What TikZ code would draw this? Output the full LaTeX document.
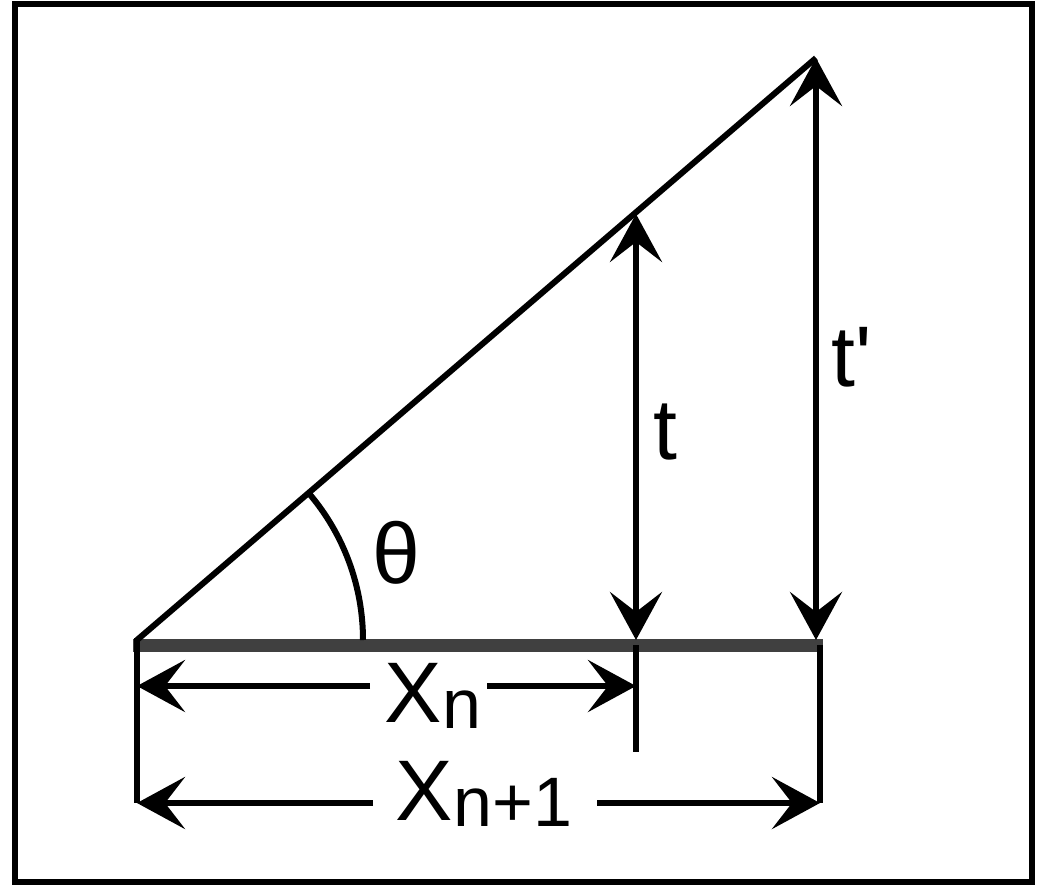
\documentclass[tikz,border=0pt]{standalone}
\usepackage{fontspec}
\setmainfont{Liberation Sans}
\usetikzlibrary{arrows.meta}
\begin{document}
\begin{tikzpicture}[x=0.5pt,y=-0.5pt,
  lbl/.style={font=\fontsize{43}{50}\selectfont, inner sep=0pt},
  dim/.style={line width=3pt, arrows={-Stealth[length=24pt,width=26pt,inset=10pt]}},
  thin/.style={line width=3pt},
  baseln/.style={line width=6.5pt, draw=black!75}]
\useasboundingbox (0,0) rectangle (1051,885);
\draw[line width=3pt] (15,4) rectangle (1032,882);
% key points
\coordinate (O) at (137,640);
\coordinate (P) at (816,58);
\coordinate (T) at (636,214);
\coordinate (Tb) at (636,640);
\coordinate (Pb) at (816,640);
\coordinate (BL) at (133,645);
\coordinate (BR) at (823,645);
\coordinate (LL) at (137,803);
\coordinate (RR) at (820,803);
\coordinate (TL) at (636,752);
\coordinate (XnL) at (137,686);
\coordinate (XnR) at (636,686);
% base line
\draw[baseln] (BL) -- (BR);
% hypotenuse
\draw[thin] (O) -- (P);
% verticals
\draw[thin] (137,638) -- (LL);
\draw[thin] (820,645) -- (RR);
\draw[thin] (636,645) -- (TL);
% angle arc
\draw[thin] (363,640) arc[start angle=0,end angle=-40.6,radius=226];
% t and t' arrows
\coordinate (Tm) at (636,430);
\coordinate (Pm) at (816,350);
\draw[dim] (Tm) -- (T);
\draw[dim] (Tm) -- (Tb);
\draw[dim] (Pm) -- (P);
\draw[dim] (Pm) -- (Pb);
% labels
\node[lbl] (tl) at (665,432) {t};
\node[lbl] (tpl) at (852,357) {t\textquotesingle};
\node[lbl] (th) at (396,553) {θ};
\node[lbl] (xn) at (433,696)
  {X\raisebox{-3pt}{\fontsize{35}{40}\selectfont n}};
\node[lbl] (xn1) at (484,794)
  {X\raisebox{-3pt}{\fontsize{35}{40}\selectfont n+1}};
% X_n arrow
\coordinate (xnLg) at (370,686);
\coordinate (xnRg) at (487,686);
\draw[dim] (xnLg) -- (XnL);
\draw[dim] (xnRg) -- (XnR);
% X_{n+1} arrow
\coordinate (x1Lg) at (373,803);
\coordinate (x1Rg) at (597,803);
\draw[dim] (x1Lg) -- (LL);
\draw[dim] (x1Rg) -- (RR);
\end{tikzpicture}
\end{document}
